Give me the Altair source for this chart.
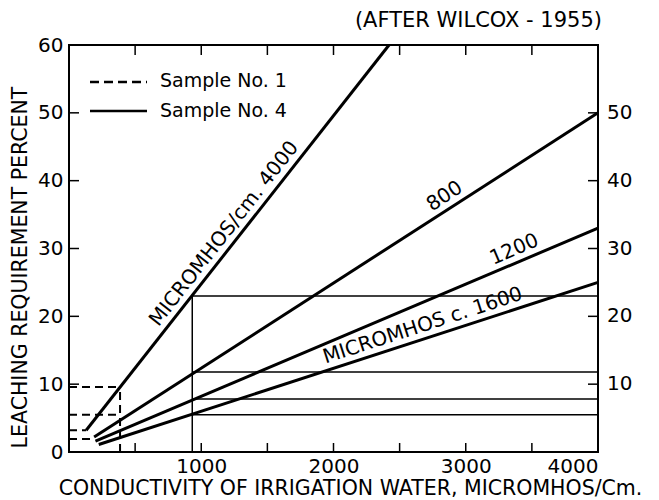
import altair as alt
import pandas as pd

FONT = "DejaVu Sans"
W, H = 529, 407

# ---- data ----
line_names = ["4000", "800", "1200", "1600"]
line_ec_start = [130, 190, 200, 225]
line_lr_start = [3.2, 2.2, 1.6, 1.1]
line_ec_end = [2420, 4000, 4000, 4000]
line_lr_end = [60, 50, 33, 25]

# line labels (anchor point on the line)
label_texts = ["MICROMHOS/cm. 4000", "800", "1200", "MICROMHOS c. 1600"]
label_ec = [1250, 2894, 3405, 2705]
label_lr = [31.0, 36.1, 28.1, 16.8]
label_angles = [308, 327, 337, 342]

# Sample No. 1 (dashed) segments
s1_x0 = [386, 0, 0, 0, 0]
s1_x1 = [386, 386, 386, 130, 190]
s1_y0 = [0, 9.6, 5.5, 3.2, 1.9]
s1_y1 = [9.6, 9.6, 5.5, 3.2, 1.9]

# Sample No. 4 (solid) segments
s4_x0 = [932, 932, 932, 932, 932]
s4_x1 = [932, 4000, 4000, 4000, 4000]
s4_y0 = [0, 23, 11.8, 7.8, 5.5]
s4_y1 = [23, 23, 11.8, 7.8, 5.5]

x_ticks = [500, 1000, 1500, 2000, 2500, 3000, 3500]
y_ticks = [10, 20, 30, 40, 50]
x_labels = [1000, 2000, 3000, 4000]
y_labels = [0, 10, 20, 30, 40, 50, 60]
right_labels = [10, 20, 30, 40, 50]
legend_labels = ["Sample No. 1", "Sample No. 4"]

xscale = alt.Scale(domain=[0, 4000], nice=False, zero=False)
yscale = alt.Scale(domain=[0, 60], nice=False, zero=False)

xaxis = alt.Axis(
    values=x_labels, format="d", ticks=False, domain=False, grid=False,
    labelFont=FONT, labelFontSize=20, labelColor="black", labelPadding=4,
    title="CONDUCTIVITY OF IRRIGATION WATER, MICROMHOS/Cm.",
    titleFont=FONT, titleFontSize=20.5, titleFontWeight="normal", titleColor="black",
    titleX=281, titleY=42, titleBaseline="alphabetic", titleAlign="center")
yaxis = alt.Axis(
    values=y_labels, ticks=False, domain=False, grid=False,
    labelFont=FONT, labelFontSize=20, labelColor="black", labelPadding=6,
    title="LEACHING REQUIREMENT PERCENT",
    titleFont=FONT, titleFontSize=20.5, titleFontWeight="normal", titleColor="black",
    titleX=-49, titleY=222, titleAngle=270, titleBaseline="middle", titleAlign="center")

lines_df = pd.DataFrame({
    "line": line_names + line_names,
    "ec": line_ec_start + line_ec_end,
    "lr": line_lr_start + line_lr_end,
})

lines = alt.Chart(lines_df).mark_line(color="black", strokeWidth=3).encode(
    x=alt.X("ec:Q", scale=xscale, axis=xaxis),
    y=alt.Y("lr:Q", scale=yscale, axis=yaxis),
    detail="line:N",
)

s1_df = pd.DataFrame({"x0": s1_x0, "x1": s1_x1, "y0": s1_y0, "y1": s1_y1})
s1 = alt.Chart(s1_df).mark_rule(color="black", strokeWidth=2, strokeDash=[8, 5]).encode(
    x=alt.X("x0:Q", scale=xscale, axis=xaxis), x2="x1:Q",
    y=alt.Y("y0:Q", scale=yscale, axis=yaxis), y2="y1:Q")

s4_df = pd.DataFrame({"x0": s4_x0, "x1": s4_x1, "y0": s4_y0, "y1": s4_y1})
s4 = alt.Chart(s4_df).mark_rule(color="black", strokeWidth=1.5).encode(
    x=alt.X("x0:Q", scale=xscale, axis=xaxis), x2="x1:Q",
    y=alt.Y("y0:Q", scale=yscale, axis=yaxis), y2="y1:Q")

lab_df = pd.DataFrame({"t": label_texts, "ec": label_ec, "lr": label_lr, "a": label_angles})
labels = alt.Chart(lab_df).mark_text(
    font=FONT, fontSize=20, color="black", align="center", baseline="bottom", dy=-3
).encode(
    x=alt.X("ec:Q", scale=xscale, axis=xaxis),
    y=alt.Y("lr:Q", scale=yscale, axis=yaxis),
    angle=alt.Angle("a:Q", scale=None),
    text="t:N")

xt_df = pd.DataFrame({"t": x_ticks})
yt_df = pd.DataFrame({"t": y_ticks})
tick_bottom = alt.Chart(xt_df).mark_rule(color="black", strokeWidth=1.5).encode(
    x=alt.X("t:Q", scale=xscale, axis=xaxis), y=alt.value(H), y2=alt.value(H - 9))
tick_top = alt.Chart(xt_df).mark_rule(color="black", strokeWidth=1.5).encode(
    x=alt.X("t:Q", scale=xscale, axis=xaxis), y=alt.value(0), y2=alt.value(10))
tick_left = alt.Chart(yt_df).mark_rule(color="black", strokeWidth=1.5).encode(
    y=alt.Y("t:Q", scale=yscale, axis=yaxis), x=alt.value(0), x2=alt.value(10))
tick_right = alt.Chart(yt_df).mark_rule(color="black", strokeWidth=1.5).encode(
    y=alt.Y("t:Q", scale=yscale, axis=yaxis), x=alt.value(W - 10), x2=alt.value(W))

rl_df = pd.DataFrame({"t": right_labels})
right_lab = alt.Chart(rl_df).mark_text(
    font=FONT, fontSize=20, color="black", align="left", baseline="middle"
).encode(y=alt.Y("t:Q", scale=yscale, axis=yaxis), x=alt.value(W + 9), text="t:Q")

one = alt.Data(values=[{"k": 0}])
leg1_line = alt.Chart(one).mark_rule(color="black", strokeWidth=2.5, strokeDash=[9, 5]).encode(
    x=alt.value(21), x2=alt.value(78), y=alt.value(37))
leg4_line = alt.Chart(one).mark_rule(color="black", strokeWidth=2.5).encode(
    x=alt.value(21), x2=alt.value(78), y=alt.value(66))
leg1_txt = alt.Chart(one).mark_text(font=FONT, fontSize=19, color="black", align="left", baseline="middle").encode(
    x=alt.value(91), y=alt.value(36), text=alt.value(legend_labels[0]))
leg4_txt = alt.Chart(one).mark_text(font=FONT, fontSize=19, color="black", align="left", baseline="middle").encode(
    x=alt.value(91), y=alt.value(66), text=alt.value(legend_labels[1]))

title_txt = alt.Chart(one).mark_text(font=FONT, fontSize=21, color="black", align="right", baseline="alphabetic").encode(
    x=alt.value(533), y=alt.value(-18), text=alt.value("(AFTER WILCOX - 1955)"))

chart = alt.layer(
    s4, s1, lines, labels, tick_bottom, tick_top, tick_left, tick_right, right_lab,
    leg1_line, leg4_line, leg1_txt, leg4_txt, title_txt
).properties(
    width=W, height=H,
    autosize=alt.AutoSizeParams(type="none"),
    padding={"left": 69, "top": 45, "right": 61, "bottom": 48},
    background="white",
).configure_view(stroke="black", strokeWidth=2)

chart.save("out.html", embed_options={"renderer": "svg", "actions": False})
